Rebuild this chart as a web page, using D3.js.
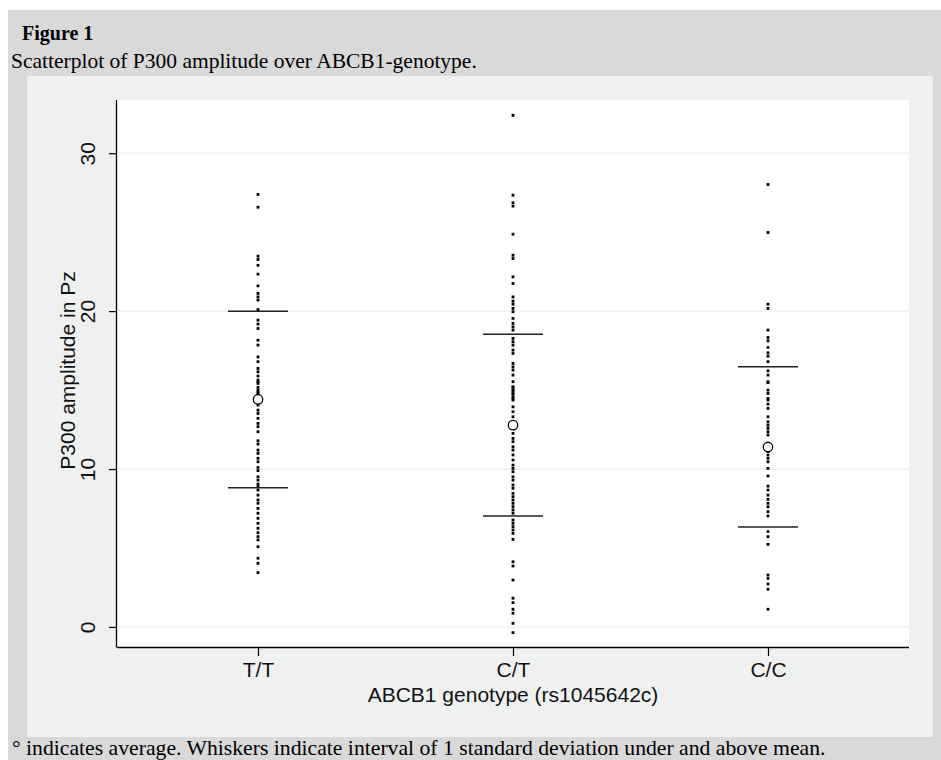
<!DOCTYPE html>
<html>
<head>
<meta charset="utf-8">
<script src="https://cdn.jsdelivr.net/npm/d3@7"></script>
<style>
  html, body { margin: 0; padding: 0; background: #ffffff; }
  svg { display: block; }
</style>
</head>
<body>
<svg id="chart" width="941" height="760"></svg>
<script>
// ---------------- data ----------------
const categories = ["T/T", "C/T", "C/C"];

const valuesTT = [27.39, 26.58, 23.48, 23.27, 22.9, 22.34, 21.6, 21.12, 20.9, 20.7, 20.1,
  19.43, 19.18, 18.9, 18.16, 17.85, 17.1, 16.8, 16.37, 16.16, 15.89, 15.63, 15.42, 15.17,
  14.89, 14.68, 15.52, 15.0, 14.79, 14.05, 13.73, 13.52, 13.21, 12.89, 12.68, 12.36,
  11.79, 11.58, 11.2, 10.99, 10.68, 10.46, 10.1, 9.9, 9.51, 9.3, 9.05, 8.88, 8.67,
  8.35, 8.04, 7.83, 7.51, 7.2, 6.88, 6.56, 6.25, 5.97, 5.72, 5.51, 5.08, 4.35, 4.03, 3.44];

const valuesCT = [32.4, 27.34, 26.86, 26.65, 24.87, 23.54, 23.33, 22.17, 21.75, 20.9,
  20.63, 20.44, 20.17, 19.96, 19.54, 19.22, 19.0, 18.8, 18.27, 18.06, 17.85, 17.53, 17.32,
  16.69, 16.47, 16.27, 15.95, 15.53, 15.17, 14.96, 14.75, 14.47, 15.21, 15.0, 14.79, 14.58,
  14.37, 13.94, 13.63, 13.31, 12.26, 11.94, 11.73, 11.41, 11.2, 10.89, 10.57, 10.25, 10.04,
  9.83, 9.51, 9.3, 8.99, 8.78, 8.46, 8.25, 8.04, 7.83, 7.62, 7.41, 7.2, 6.77, 6.56, 6.35,
  6.14, 5.93, 5.55, 4.13, 3.86, 2.97, 1.82, 1.54, 1.12, 0.87, 0.23, -0.36];

const valuesCC = [28.02, 24.98, 20.44, 20.17, 18.8, 18.33, 18.12, 17.7, 17.36, 17.15, 16.8,
  16.22, 15.95, 15.47, 15.0, 14.47, 15.53, 14.79, 14.37, 14.11, 13.84, 13.31, 12.99, 12.78,
  12.58, 12.36, 12.15, 11.1, 10.89, 10.68, 10.46, 10.04, 9.56, 8.92, 8.67, 8.35, 8.08, 7.83,
  7.61, 7.3, 7.03, 6.04, 5.72, 5.23, 3.29, 3.08, 2.72, 2.39, 1.12];

const means = [14.41, 12.78, 11.40];
const sds = [5.59, 5.75, 5.07];

const yTicks = [0, 10, 20, 30];

const figureLabel = "Figure 1";
const figureTitle = "Scatterplot of P300 amplitude over ABCB1-genotype.";
const xTitle = "ABCB1 genotype (rs1045642c)";
const yTitle = "P300 amplitude in Pz";
const footnote = "\u00B0 indicates average. Whiskers indicate interval of 1 standard deviation under and above mean.";

// ---------------- layout ----------------
const svg = d3.select("#chart");
const plot = { left: 117, right: 909, top: 100, bottom: 647 };
const fontSerif = "Liberation Serif, Times New Roman, serif";
const fontSans = "Liberation Sans, Arial, sans-serif";

// outer gray frame
svg.append("rect").attr("x", 8).attr("y", 10).attr("width", 941 - 8).attr("height", 760 - 10)
  .attr("fill", "#d9d9d9");
// inner graph region
svg.append("rect").attr("x", 27).attr("y", 76).attr("width", 933 - 27).attr("height", 737 - 76)
  .attr("fill", "#eff1f1");
// plot region
svg.append("rect").attr("x", plot.left).attr("y", plot.top)
  .attr("width", plot.right - plot.left).attr("height", plot.bottom - plot.top)
  .attr("fill", "#ffffff");

// header texts
svg.append("text").attr("x", 22).attr("y", 40)
  .attr("font-family", fontSerif)
  .attr("font-weight", "bold").attr("font-size", 20).attr("fill", "#000")
  .text(figureLabel);
svg.append("text").attr("x", 11).attr("y", 68)
  .attr("font-family", fontSerif)
  .attr("font-size", 21.5).attr("fill", "#000")
  .text(figureTitle);

// scales
const x = d3.scalePoint().domain(categories).range([plot.left, plot.right]).padding(0.553);
const y = d3.scaleLinear().domain([-1.27, 33.37]).range([plot.bottom, plot.top]);

// gridlines
svg.append("g").selectAll("line").data(yTicks).join("line")
  .attr("x1", plot.left).attr("x2", plot.right)
  .attr("y1", d => y(d)).attr("y2", d => y(d))
  .attr("stroke", "#e8eff1").attr("stroke-width", 1.2);

// axes
const xAxis = svg.append("g").attr("transform", `translate(0,${plot.bottom})`)
  .call(d3.axisBottom(x).tickSize(9).tickSizeOuter(0).tickPadding(6));
xAxis.select(".domain").attr("d", `M${plot.left},0.5H${plot.right}`).attr("stroke", "#000").attr("stroke-width", 1.3);
xAxis.selectAll(".tick line").attr("stroke", "#000").attr("stroke-width", 1.2);
xAxis.selectAll(".tick text").attr("font-family", fontSans).attr("font-size", 21).attr("fill", "#111");

const yAxis = svg.append("g").attr("transform", `translate(${plot.left},0)`)
  .call(d3.axisLeft(y).tickValues(yTicks).tickSize(8).tickSizeOuter(0));
yAxis.select(".domain").attr("d", `M-0.5,${plot.top}V${plot.bottom + 0.5}`).attr("stroke", "#000").attr("stroke-width", 1.3);
yAxis.selectAll(".tick line").attr("stroke", "#000").attr("stroke-width", 1.2);
yAxis.selectAll(".tick text")
  .attr("font-family", fontSans).attr("font-size", 21).attr("fill", "#111")
  .attr("text-anchor", "middle").attr("transform", "rotate(-90)")
  .attr("x", 0).attr("y", -30).attr("dy", "0.36em");

// axis titles
svg.append("text").attr("x", (plot.left + plot.right) / 2).attr("y", 702)
  .attr("text-anchor", "middle").attr("font-family", fontSans).attr("font-size", 21).attr("fill", "#111")
  .text(xTitle);
svg.append("text").attr("transform", `translate(67,${(plot.top + plot.bottom) / 2 - 3}) rotate(-90)`)
  .attr("text-anchor", "middle").attr("dy", "0.36em")
  .attr("font-family", fontSans).attr("font-size", 21).attr("fill", "#111")
  .text(yTitle);

// points
const series = [valuesTT, valuesCT, valuesCC];
const pts = [];
series.forEach((vals, i) => vals.forEach(v => pts.push({ cat: categories[i], v })));
const ds = 2.8;
svg.append("g").selectAll("rect").data(pts).join("rect")
  .attr("x", d => x(d.cat) - ds / 2).attr("y", d => y(d.v) - ds / 2)
  .attr("width", ds).attr("height", ds).attr("fill", "#000");

// whiskers
const stats = categories.map((c, i) => ({ cat: c, mean: means[i], sd: sds[i] }));
const wg = svg.append("g");
stats.forEach(s => {
  [s.mean - s.sd, s.mean + s.sd].forEach(v => {
    wg.append("line")
      .attr("x1", x(s.cat) - 30).attr("x2", x(s.cat) + 30)
      .attr("y1", y(v)).attr("y2", y(v))
      .attr("stroke", "#222").attr("stroke-width", 1.5);
  });
});

// mean markers
svg.append("g").selectAll("circle").data(stats).join("circle")
  .attr("cx", d => x(d.cat)).attr("cy", d => y(d.mean)).attr("r", 4.7)
  .attr("fill", "#fff").attr("stroke", "#000").attr("stroke-width", 1.3);

// footnote
svg.append("text").attr("x", 12).attr("y", 755)
  .attr("font-family", fontSerif)
  .attr("font-size", 21.7).attr("fill", "#000")
  .text(footnote);
</script>
</body>
</html>
